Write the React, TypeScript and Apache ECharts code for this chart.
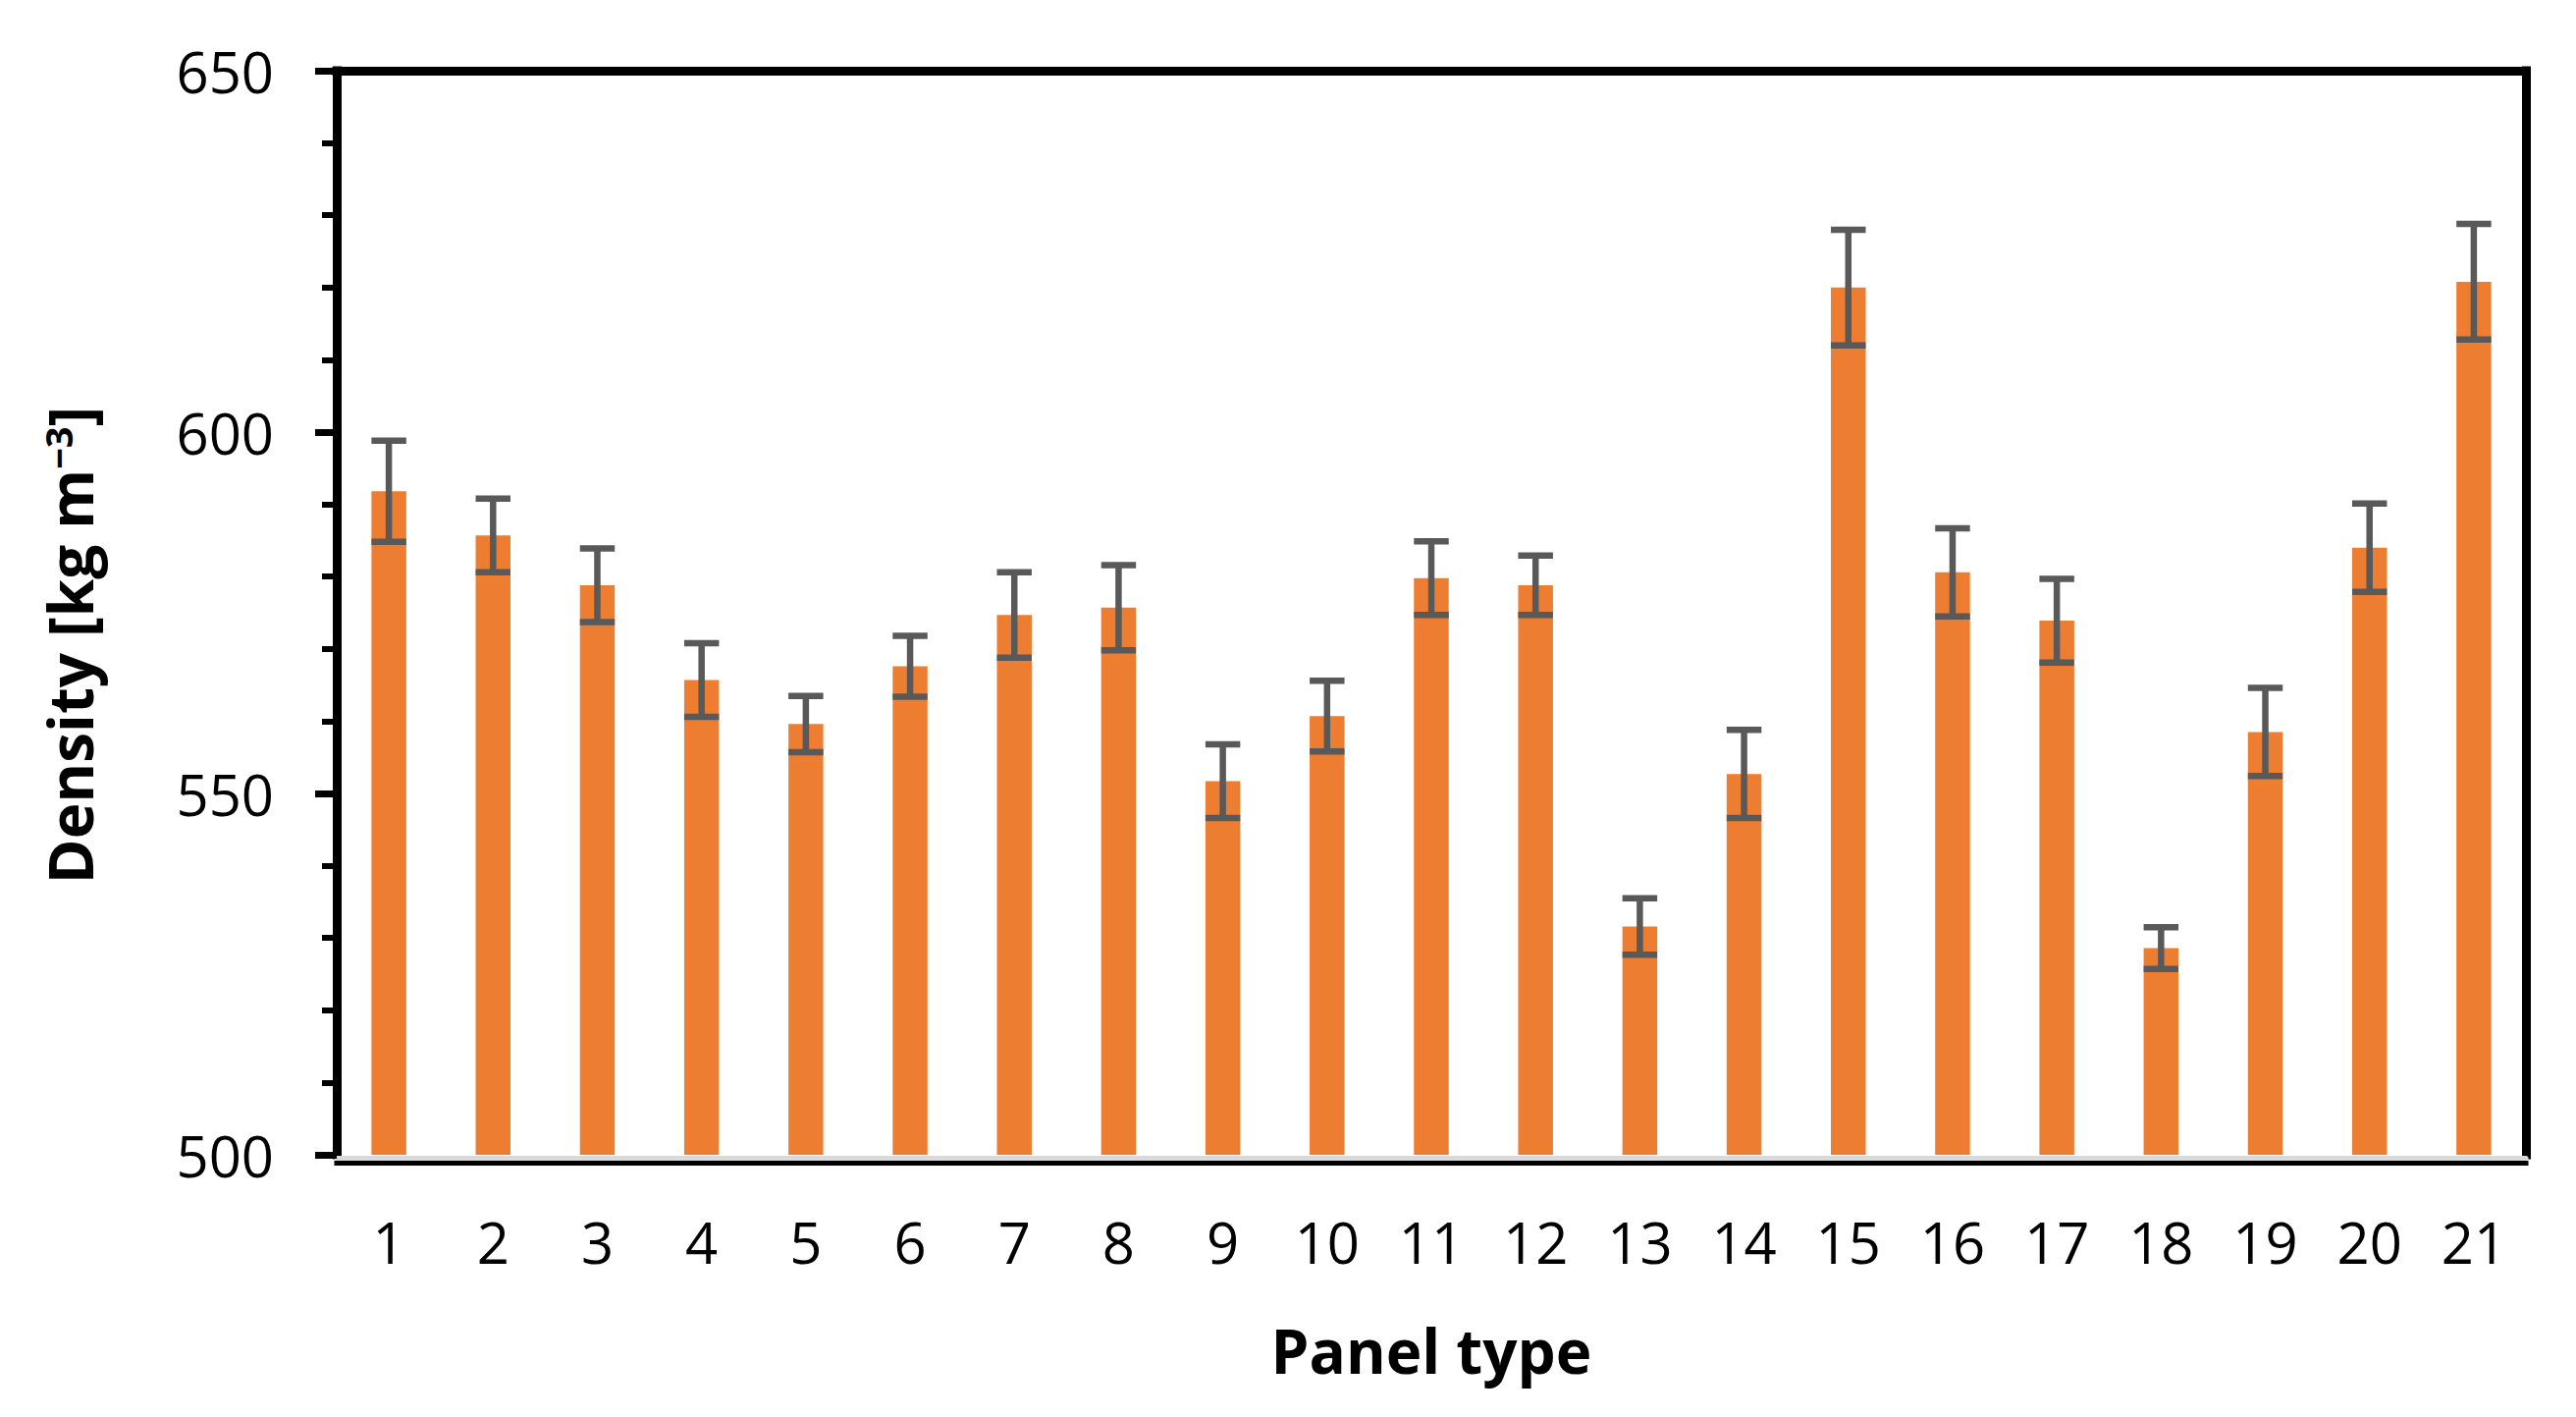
import React, { useEffect, useRef } from "react";
import * as echarts from "echarts";

const categories = ["1","2","3","4","5","6","7","8","9","10","11","12","13","14","15","16","17","18","19","20","21"];
const density = [591.8, 585.7, 578.8, 565.7, 559.6, 567.6, 574.7, 575.7, 551.7, 560.7, 579.8, 578.8, 531.6, 552.7, 620.0, 580.6, 573.9, 528.6, 558.5, 584.0, 620.8];
const errors = [7.0, 5.1, 5.1, 5.1, 3.9, 4.2, 5.9, 5.9, 5.1, 4.9, 5.1, 4.1, 3.9, 6.1, 8.0, 6.1, 5.8, 2.9, 6.1, 6.1, 8.0];
const yMin = 500;
const yMax = 650;
const yInterval = 50;
const xTitle = "Panel type";
const yTitle = "Density [kg m";
const yTitleSup = "\u22123";

const FONT = "Open Sans";
const BAR_COLOR = "#ED7D31";
const ERR_COLOR = "#595959";
const BAR_RATIO = 0.334;

export default function App() {
  const ref = useRef<HTMLDivElement>(null);

  useEffect(() => {
    if (!ref.current) return;
    const chart = echarts.init(ref.current, null, { renderer: "svg" });

    const errData = density.map((v, i) => [i, v - errors[i], v + errors[i]]);

    const option: any = {
      animation: false,
      backgroundColor: "#ffffff",
      grid: { left: 343, right: 51, top: 72, bottom: 267, containLabel: false },
      xAxis: [
        {
          type: "category",
          data: categories,
          position: "bottom",
          offset: 3,
          axisLine: { show: true, lineStyle: { color: "#D9D9D9", width: 5 } },
          axisTick: { show: false },
          axisLabel: { color: "#000", fontFamily: FONT, fontSize: 58, margin: 56 },
          splitLine: { show: false },
        },
        {
          type: "category",
          data: categories,
          position: "top",
          axisLine: { show: true, lineStyle: { color: "#000", width: 9, cap: "square" } },
          axisTick: { show: false },
          axisLabel: { show: false },
          splitLine: { show: false },
        },
        {
          type: "category",
          data: categories,
          position: "bottom",
          offset: 8,
          axisLine: { show: true, lineStyle: { color: "#000", width: 5, cap: "square" } },
          axisTick: { show: false },
          axisLabel: { show: false },
          splitLine: { show: false },
        },
      ],
      yAxis: [
        {
          type: "value",
          min: yMin,
          max: yMax,
          interval: yInterval,
          position: "left",
          axisLine: { show: true, lineStyle: { color: "#000", width: 9, cap: "square" } },
          axisTick: { show: true, inside: false, length: 22, lineStyle: { color: "#000", width: 7 } },
          minorTick: { show: true, splitNumber: 5, length: 15, lineStyle: { color: "#000", width: 6 } },
          axisLabel: { color: "#000", fontFamily: FONT, fontSize: 58, margin: 64 },
          splitLine: { show: false },
          minorSplitLine: { show: false },
        },
        {
          type: "value",
          min: yMin,
          max: yMax,
          interval: yInterval,
          position: "right",
          axisLine: { show: true, lineStyle: { color: "#000", width: 9, cap: "square" } },
          axisTick: { show: false },
          axisLabel: { show: false },
          splitLine: { show: false },
        },
      ],
      series: [
        {
          type: "bar",
          name: "Density",
          data: density,
          xAxisIndex: 0,
          yAxisIndex: 0,
          barWidth: (BAR_RATIO * 100).toFixed(1) + "%",
          itemStyle: { color: BAR_COLOR },
          z: 2,
        },
        {
          type: "custom",
          name: "Error",
          xAxisIndex: 0,
          yAxisIndex: 0,
          data: errData,
          encode: { x: 0, y: [1, 2] },
          z: 4,
          renderItem: (params: any, api: any) => {
            const xi = api.value(0);
            const lo = api.coord([xi, api.value(1)]);
            const hi = api.coord([xi, api.value(2)]);
            const bw = api.size([1, 0])[0] * BAR_RATIO;
            const half = bw / 2;
            const style = { stroke: ERR_COLOR, lineWidth: 6.5, fill: "none" };
            return {
              type: "group",
              children: [
                { type: "line", shape: { x1: hi[0], y1: hi[1], x2: lo[0], y2: lo[1] }, style },
                { type: "line", shape: { x1: hi[0] - half, y1: hi[1], x2: hi[0] + half, y2: hi[1] }, style },
                { type: "line", shape: { x1: lo[0] - half, y1: lo[1], x2: lo[0] + half, y2: lo[1] }, style },
              ],
            };
          },
        },
      ],
      graphic: [
        {
          type: "text",
          x: 1458,
          y: 1375,
          style: {
            text: xTitle,
            fill: "#000",
            fontFamily: FONT,
            fontWeight: "bold",
            fontSize: 62,
            align: "center",
            verticalAlign: "middle",
          },
        },
        {
          type: "text",
          x: 71,
          y: 657,
          rotation: Math.PI / 2,
          style: {
            text: "{b|" + yTitle + "}{s|" + yTitleSup + "}{b|]}",
            fill: "#000",
            align: "center",
            verticalAlign: "middle",
            rich: {
              b: { fontFamily: FONT, fontWeight: "bold", fontSize: 62, fill: "#000" },
              s: { fontFamily: FONT, fontWeight: "bold", fontSize: 38, fill: "#000", verticalAlign: "top" },
            },
          },
        },
      ],
    };

    chart.setOption(option);
    return () => {
      chart.dispose();
    };
  }, []);

  return (
    <div
      ref={ref}
      style={{ position: "absolute", left: 0, top: 0, width: 2624, height: 1443, background: "#fff" }}
    />
  );
}
